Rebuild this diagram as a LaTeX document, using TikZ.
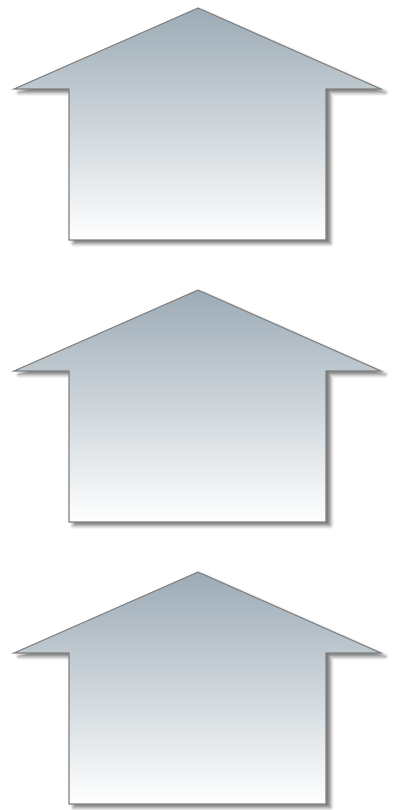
\documentclass[tikz,border=0pt]{standalone}
\usepackage{xcolor}
\usepackage{tikz}
\usetikzlibrary{shadows.blur}

\definecolor{roofgrey}{HTML}{9CABB6}

\begin{document}
\begin{tikzpicture}[
    x=0.02cm, y=-0.02cm,
    house/.style={draw=black!50, line width=0.6pt, top color=roofgrey, bottom color=white,
        blur shadow={shadow xshift=2.5pt, shadow yshift=-2pt, shadow blur radius=2pt, shadow opacity=55}},
]
    \useasboundingbox (0,0) rectangle (400,810);
    \foreach \dy in {0,282,564} {
        \draw[house] (198,8+\dy) -- (381,89+\dy) -- (326,89+\dy) -- (326,240+\dy)
            -- (69,240+\dy) -- (69,89+\dy) -- (14,89+\dy) -- cycle;
    }
\end{tikzpicture}
\end{document}
